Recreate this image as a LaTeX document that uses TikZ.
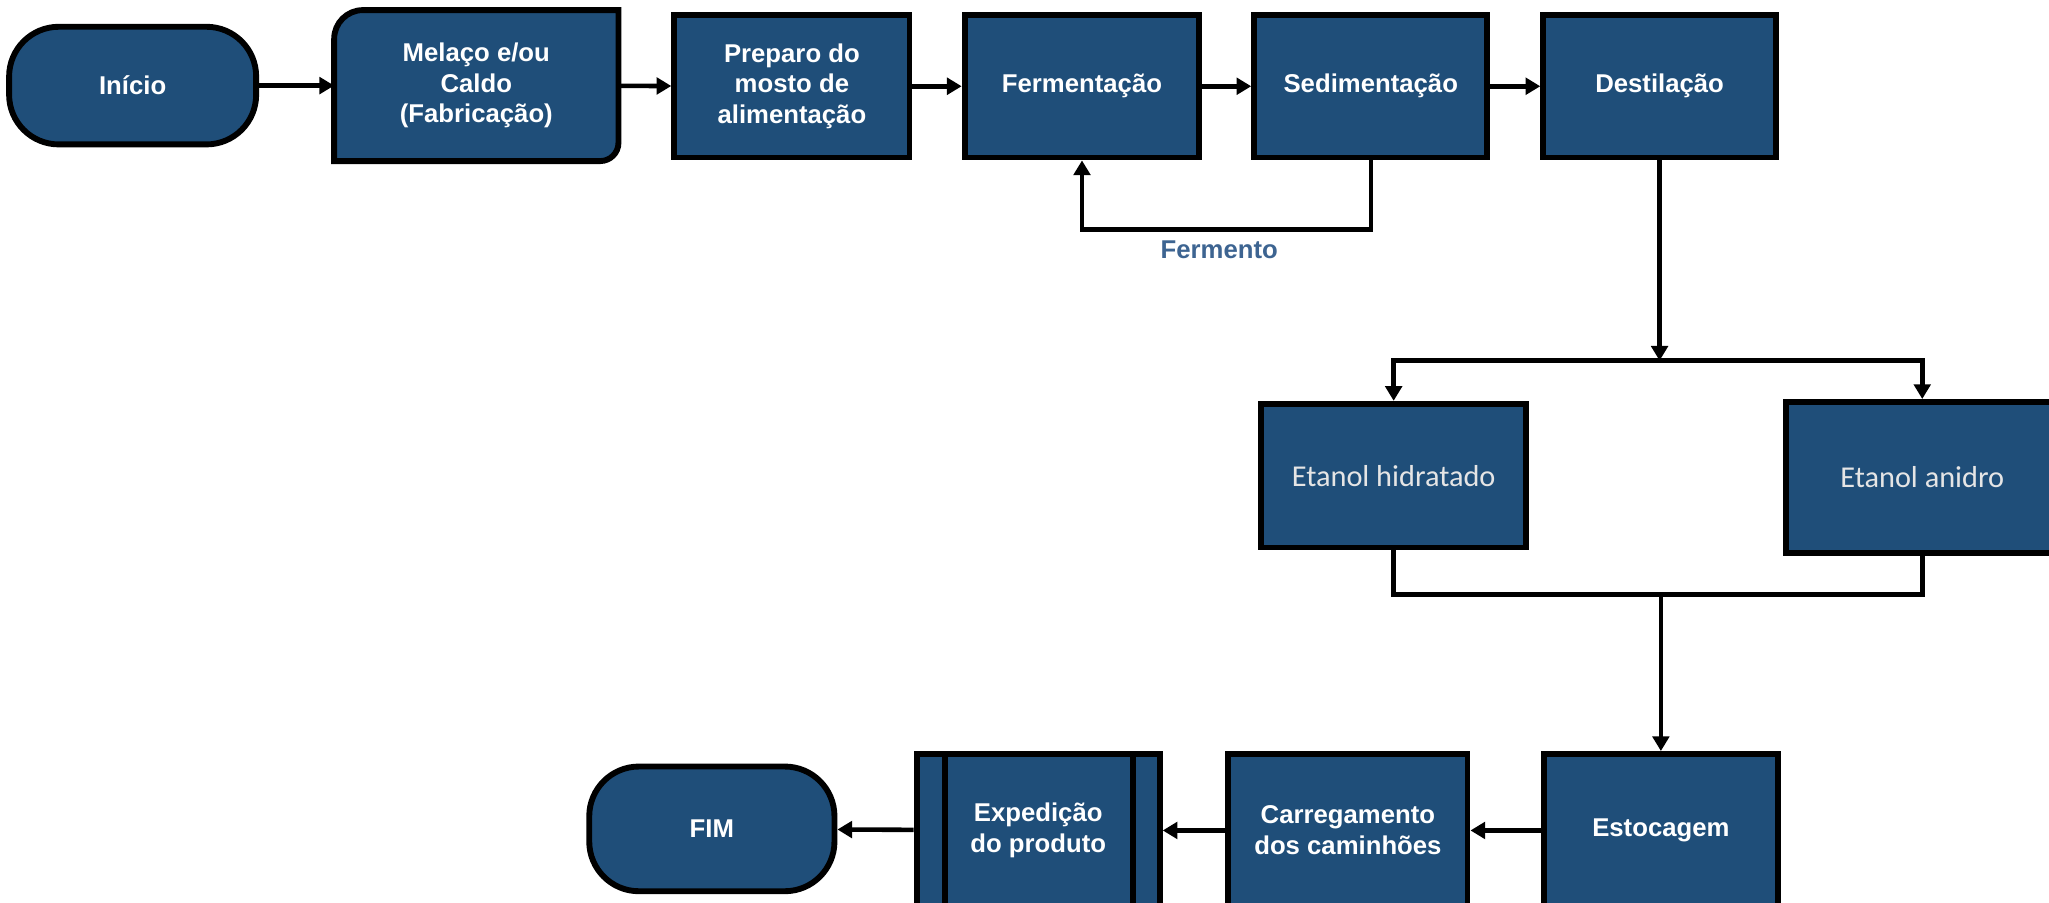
\documentclass[tikz,border=0pt]{standalone}
\usepackage{fontspec}
\setmainfont{Liberation Sans}
\newfontfamily\calibrifont{Carlito}
\usetikzlibrary{arrows.meta,backgrounds}
\definecolor{boxblue}{RGB}{31,78,121}
\definecolor{labelblue}{RGB}{61,100,145}

\begin{document}
\begin{tikzpicture}[x=0.025cm,y=-0.025cm,
    box/.style={draw=black,line width=3.2pt,fill=boxblue,text=white,align=center,inner sep=0pt,
      font=\fontsize{14}{16.7}\selectfont\bfseries},
    terminal/.style={box,rounded corners=0.95cm},
    etanol/.style={box,text=white!90!black,font=\calibrifont\fontsize{16.5}{19}\selectfont},
    flow/.style={line width=2.5pt,-{Triangle[length=8pt,width=9pt]}},
    link/.style={line width=2.5pt}]
  \useasboundingbox (0,0) rectangle (1568,691);
  % linha de cima
  \node[terminal,minimum width=4.725cm,minimum height=2.25cm] (inicio) at (101.5,65.5) {Início};
  \node[box,draw=none,fill=none,minimum width=5.325cm,minimum height=2.775cm] (melaco) at (364.5,65.5) {Melaço e/ou\\Caldo\\(Fabricação)};
  \node[box,minimum width=4.5cm,minimum height=2.725cm] (preparo) at (606,66) {Preparo do\\mosto de\\alimentação};
  \node[box,minimum width=4.49cm,minimum height=2.725cm] (ferm) at (828,66) {Fermentação};
  \node[box,minimum width=4.46cm,minimum height=2.725cm] (sedim) at (1049,66) {Sedimentação};
  \node[box,minimum width=4.45cm,minimum height=2.725cm] (destil) at (1270,66) {Destilação};
  \begin{scope}[on background layer]
    \filldraw[fill=boxblue,line width=3.2pt] (melaco.south west) -- ([yshift=-0.55cm]melaco.north west)
      arc[start angle=180,end angle=90,radius=0.55cm] -- (melaco.north east)
      -- ([yshift=0.35cm]melaco.south east) arc[start angle=0,end angle=-90,radius=0.35cm] -- cycle;
  \end{scope}
  \draw[flow] (inicio) -- (melaco);
  \draw[flow] (melaco) -- (preparo);
  \draw[flow] (preparo) -- (ferm);
  \draw[flow] (ferm) -- (sedim);
  \draw[flow] (sedim) -- (destil);
  % retorno do fermento
  \coordinate (volta) at (1049,175.5);
  \draw[flow] (sedim.south) -- (volta) -| (ferm.south);
  \node[font=\fontsize{14}{16.7}\selectfont\bfseries,text=labelblue] (fermento) at (933,191) {Fermento};
  % etanol
  \node[etanol,minimum width=5.075cm,minimum height=2.75cm] (hidratado) at (1066.5,364) {Etanol hidratado};
  \node[etanol,minimum width=5.2cm,minimum height=2.885cm] (anidro) at (1471,365.3) {Etanol anidro};
  \coordinate (divide) at (1270,276);
  \coordinate (junta) at (1271,455);
  \draw[flow] (destil.south) -- (divide);
  \draw[flow] (divide) -| (hidratado.north);
  \draw[flow] (divide) -| (anidro.north);
  \draw[link] (hidratado.south) |- (junta);
  \draw[link] (anidro.south) |- (junta);
  % linha de baixo
  \node[box,minimum width=4.475cm,minimum height=2.925cm] (estoc) at (1271,635.5) {Estocagem};
  \node[box,minimum width=4.575cm,minimum height=2.925cm] (carreg) at (1031.5,635.5) {Carregamento\\dos caminhões};
  \node[box,minimum width=4.65cm,minimum height=2.925cm] (exped) at (794.5,635.5) {Expedição\\do produto};
  \draw[line width=3.2pt] ([xshift=0.6cm]exped.north west) -- ([xshift=0.6cm]exped.south west);
  \draw[line width=3.2pt] ([xshift=-0.575cm]exped.north east) -- ([xshift=-0.575cm]exped.south east);
  \node[terminal,minimum width=4.69cm,minimum height=2.385cm] (fim) at (544.75,634.3) {FIM};
  \draw[flow] (junta) -- (estoc.north);
  \draw[flow] (estoc) -- (carreg);
  \draw[flow] (carreg) -- (exped);
  \draw[flow] (exped) -- (fim);
\end{tikzpicture}
\end{document}
